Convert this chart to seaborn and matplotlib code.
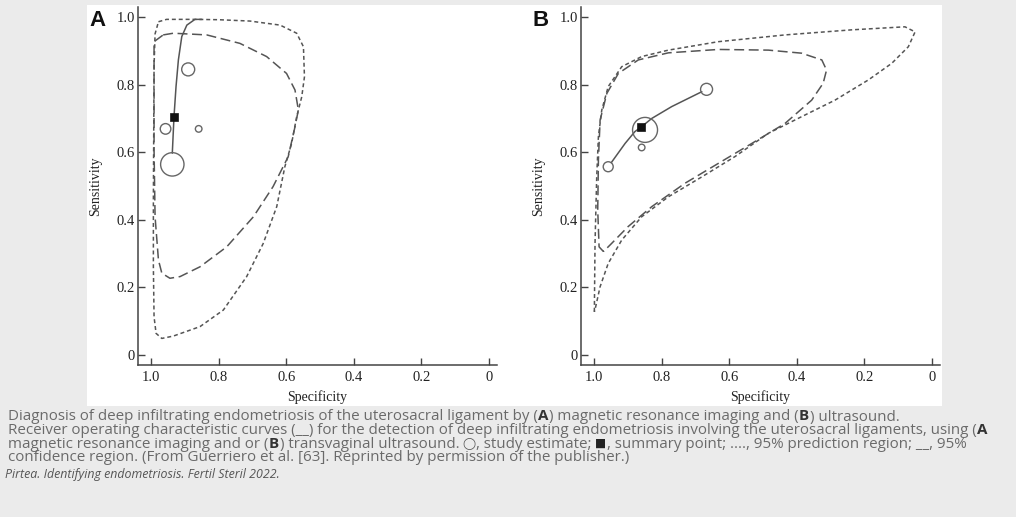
import matplotlib
matplotlib.use("Agg")
import pandas as pd
import seaborn as sns
import matplotlib.pyplot as plt
from matplotlib.patches import Rectangle

W, H = 1016, 517

# ---- Panel A: magnetic resonance imaging ----
a_study_spec = [0.890, 0.957, 0.859, 0.937]
a_study_sens = [0.845, 0.669, 0.669, 0.564]
a_study_weight = [6.5, 5.3, 3.3, 11.7]
a_summary_spec = [0.932]
a_summary_sens = [0.705]
a_sroc_spec = [0.937, 0.932, 0.926, 0.919, 0.909, 0.894, 0.870, 0.850]
a_sroc_sens = [0.597, 0.705, 0.794, 0.873, 0.942, 0.976, 0.993, 0.993]
a_pred_spec = [0.978, 0.954, 0.870, 0.800, 0.707, 0.618, 0.569, 0.549, 0.546, 0.554,
               0.569, 0.584, 0.604, 0.628, 0.668, 0.717, 0.786, 0.855, 0.934, 0.968,
               0.985, 0.991, 0.993, 0.993, 0.992, 0.991, 0.988, 0.978]
a_pred_sens = [0.986, 0.993, 0.993, 0.992, 0.988, 0.976, 0.952, 0.912, 0.823, 0.764,
               0.705, 0.626, 0.557, 0.439, 0.330, 0.232, 0.133, 0.084, 0.056, 0.049,
               0.064, 0.113, 0.261, 0.458, 0.656, 0.853, 0.950, 0.986]
a_conf_spec = [0.964, 0.934, 0.835, 0.737, 0.658, 0.599, 0.574, 0.564, 0.574, 0.594,
               0.639, 0.697, 0.776, 0.855, 0.914, 0.944, 0.968, 0.978, 0.988, 0.991,
               0.991, 0.991, 0.964]
a_conf_sens = [0.947, 0.952, 0.947, 0.922, 0.883, 0.833, 0.784, 0.725, 0.675, 0.587,
               0.498, 0.409, 0.320, 0.261, 0.232, 0.227, 0.242, 0.281, 0.409, 0.607,
               0.804, 0.927, 0.947]

# ---- Panel B: ultrasound ----
b_study_spec = [0.667, 0.849, 0.859, 0.958]
b_study_sens = [0.786, 0.666, 0.614, 0.557]
b_study_weight = [6.0, 12.5, 3.3, 5.0]
b_summary_spec = [0.861]
b_summary_sens = [0.674]
b_sroc_spec = [0.949, 0.908, 0.879, 0.861, 0.829, 0.770, 0.681]
b_sroc_sens = [0.569, 0.626, 0.661, 0.674, 0.700, 0.735, 0.779]
b_pred_spec = [0.999, 0.997, 0.992, 0.987, 0.977, 0.958, 0.918, 0.859, 0.780, 0.632,
               0.435, 0.238, 0.080, 0.050, 0.070, 0.119, 0.188, 0.287, 0.386, 0.484,
               0.583, 0.681, 0.780, 0.859, 0.918, 0.958, 0.982, 0.995, 0.999]
b_pred_sens = [0.128, 0.330, 0.527, 0.646, 0.725, 0.794, 0.853, 0.883, 0.902, 0.927,
               0.947, 0.962, 0.971, 0.956, 0.912, 0.863, 0.814, 0.754, 0.705, 0.656,
               0.587, 0.527, 0.468, 0.409, 0.340, 0.271, 0.202, 0.143, 0.128]
b_conf_spec = [0.972, 0.985, 0.989, 0.987, 0.982, 0.962, 0.928, 0.869, 0.780, 0.632,
               0.484, 0.386, 0.326, 0.312, 0.322, 0.356, 0.435, 0.533, 0.632, 0.731,
               0.829, 0.899, 0.948, 0.972]
b_conf_sens = [0.306, 0.320, 0.429, 0.577, 0.695, 0.774, 0.833, 0.873, 0.894, 0.904,
               0.902, 0.893, 0.873, 0.843, 0.804, 0.754, 0.685, 0.626, 0.567, 0.508,
               0.439, 0.380, 0.330, 0.306]

tick_vals = [1.0, 0.8, 0.6, 0.4, 0.2, 0.0]
tick_labels = ["1.0", "0.8", "0.6", "0.4", "0.2", "0"]

# caption pieces: (text, kind) where kind is normal / bold / symbol
caption_lines = [
    [("Diagnosis of deep infiltrating endometriosis of the uterosacral ligament by (", "normal"),
     ("A", "bold"), (") magnetic resonance imaging and (", "normal"), ("B", "bold"), (") ultrasound.", "normal")],
    [("Receiver operating characteristic curves (__) for the detection of deep infiltrating "
      "endometriosis involving the uterosacral ligaments, using (", "normal"), ("A", "bold")],
    [("magnetic resonance imaging and or (", "normal"), ("B", "bold"),
     (") transvaginal ultrasound. ", "normal"), ("\u25EF", "symbol"), (", study estimate; ", "normal"),
     ("\u25A0", "symbol"), (", summary point; ...., 95% prediction region; __, 95%", "normal")],
    [("confidence region. (From Guerriero et al. [63]. Reprinted by permission of the publisher.)", "normal")],
]
footer = "Pirtea. Identifying endometriosis. Fertil Steril 2022."

sns.set_style("ticks")
plt.rcParams["font.family"] = ["Liberation Serif", "DejaVu Serif"]

fig = plt.figure(figsize=(W / 100, H / 100), dpi=100)
fig.patch.set_facecolor("#ebebeb")
fig.add_artist(Rectangle((87 / W, 1 - 406 / H), (942 - 87) / W, (406 - 5) / H,
                         transform=fig.transFigure, facecolor="white", edgecolor="none", zorder=0))

LINE = "#555555"
SIZE_NORM = (9, 169)
SIZES = (2.07 * 9, 2.07 * 169)


def draw_panel(left_px, letter, study_spec, study_sens, study_weight, sum_spec, sum_sens,
               sroc_spec, sroc_sens, pred_spec, pred_sens, conf_spec, conf_sens):
    ax = fig.add_axes([left_px / W, 1 - 365 / H, 359 / W, 358 / H])
    ax.set_facecolor("none")

    pred = pd.DataFrame({"spec": pred_spec, "sens": pred_sens})
    conf = pd.DataFrame({"spec": conf_spec, "sens": conf_sens})
    sroc = pd.DataFrame({"spec": sroc_spec, "sens": sroc_sens})
    sns.lineplot(data=pred, x="spec", y="sens", sort=False, estimator=None, ax=ax,
                 color=LINE, lw=1.1, linestyle=(0, (2.6, 1.9)))
    sns.lineplot(data=conf, x="spec", y="sens", sort=False, estimator=None, ax=ax,
                 color=LINE, lw=1.1, linestyle=(0, (6.5, 3.0)))
    sns.lineplot(data=sroc, x="spec", y="sens", sort=False, estimator=None, ax=ax,
                 color=LINE, lw=1.1)

    studies = pd.DataFrame({"spec": study_spec, "sens": study_sens,
                            "area": [w * w for w in study_weight]})
    sns.scatterplot(data=studies, x="spec", y="sens", size="area", sizes=SIZES,
                    size_norm=SIZE_NORM, legend=False, ax=ax, marker="o",
                    facecolor="none", edgecolor="#666666", linewidth=1.0, zorder=4)
    summary = pd.DataFrame({"spec": sum_spec, "sens": sum_sens})
    sns.scatterplot(data=summary, x="spec", y="sens", marker="s", s=36, color="#111111",
                    edgecolor="#111111", legend=False, ax=ax, zorder=5)

    ax.set_xlim(1.0385, -0.0237)
    ax.set_ylim(-0.0296, 1.0296)
    ax.set_xticks(tick_vals)
    ax.set_xticklabels(tick_labels)
    ax.set_yticks(tick_vals)
    ax.set_yticklabels(tick_labels)
    ax.tick_params(direction="in", length=5, width=1, color="#444444",
                   labelsize=10.5, labelcolor="#222222", pad=2)
    ax.tick_params(axis="x", pad=4)
    sns.despine(ax=ax)
    for side in ("left", "bottom"):
        ax.spines[side].set_color("#444444")
        ax.spines[side].set_linewidth(1.1)

    ax.set_xlabel("Specificity", fontsize=10, color="#222222")
    ax.set_ylabel("Sensitivity", fontsize=10, color="#222222")
    ax.xaxis.set_label_coords(0.5, -0.07)
    ax.xaxis.label.set_va("top")
    ax.yaxis.set_label_coords(-0.10, 0.5)

    fig.text((left_px - 49) / W, 1 - 20 / H, letter, fontsize=16, fontweight="bold",
             family="Liberation Sans", color="#111111", va="center", ha="left")
    return ax


draw_panel(138, "A", a_study_spec, a_study_sens, a_study_weight, a_summary_spec, a_summary_sens,
           a_sroc_spec, a_sroc_sens, a_pred_spec, a_pred_sens, a_conf_spec, a_conf_sens)
draw_panel(581, "B", b_study_spec, b_study_sens, b_study_weight, b_summary_spec, b_summary_sens,
           b_sroc_spec, b_sroc_sens, b_pred_spec, b_pred_sens, b_conf_spec, b_conf_sens)

# ---- caption below the figure panel ----
renderer = fig.canvas.get_renderer()
CAP_FONT = ["Open Sans", "DejaVu Sans"]

probe = fig.text(0, 0, "".join(s for s, _ in caption_lines[0]), fontsize=10, family=CAP_FONT)
cap_size = 10 * 890 / probe.get_window_extent(renderer).width
probe.remove()
SPACE_PX = 3.4

baselines = [420.5, 434, 447.5, 461]
for parts, y_px in zip(caption_lines, baselines):
    x_px = 8
    for s, kind in parts:
        gap = SPACE_PX if s.endswith(" ") else 0
        if kind == "symbol":
            t = fig.text(x_px / W, 1 - (y_px - 0.5) / H, s, fontsize=cap_size * 0.78,
                         family="DejaVu Sans", color="#222222" if s == "\u25A0" else "#555555",
                         va="baseline", ha="left")
            gap = 0.5
        else:
            t = fig.text(x_px / W, 1 - y_px / H, s.rstrip(" "), fontsize=cap_size, family=CAP_FONT,
                         fontweight=kind, color="#333333" if kind == "bold" else "#6a6a6a",
                         va="baseline", ha="left")
            if kind == "bold":
                gap = 1
        x_px += t.get_window_extent(renderer).width + gap

probe = fig.text(0, 0, footer, fontsize=8, family=CAP_FONT, style="italic")
foot_size = 8 * 272 / probe.get_window_extent(renderer).width
probe.remove()
fig.text(5 / W, 1 - 478 / H, footer, fontsize=foot_size, family=CAP_FONT, style="italic",
         color="#555555", va="baseline", ha="left")

fig.savefig("out.png", dpi=100, facecolor=fig.get_facecolor())
